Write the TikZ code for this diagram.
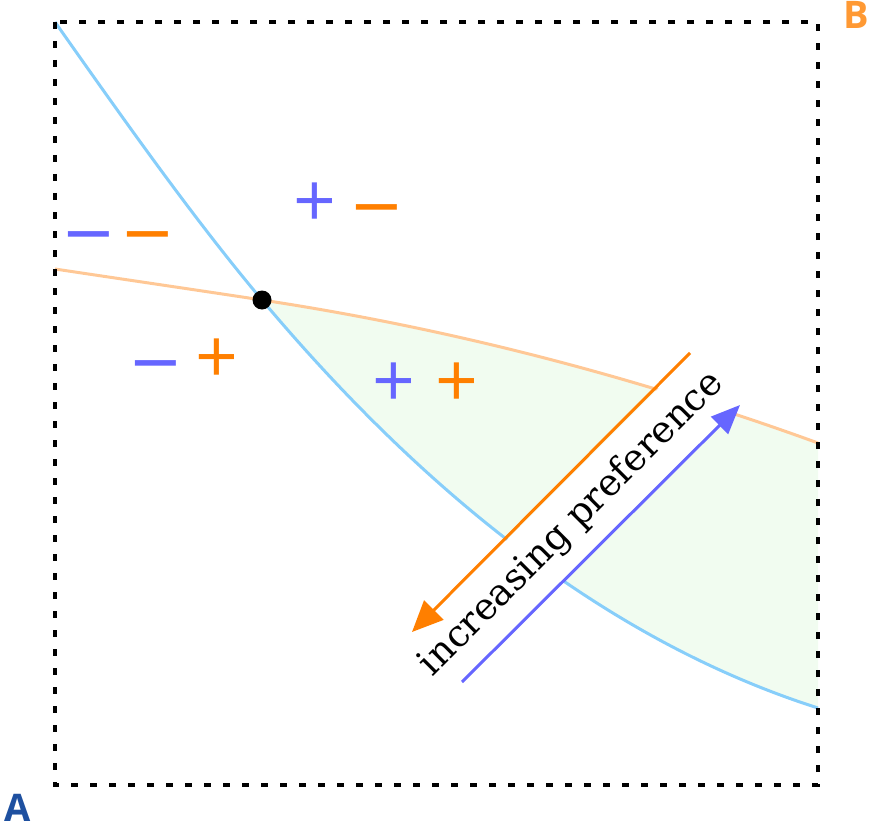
\documentclass[tikz,border=0pt]{standalone}
\usepackage{fontspec}
\newfontfamily\signfont{Open Sans}
\newfontfamily\dashfont[FakeStretch=1.3]{Open Sans}
\newfontfamily\labelfont{Open Sans}
\newfontfamily\preffont{DejaVu Serif}
\usetikzlibrary{arrows.meta}
\definecolor{curveblue}{RGB}{135,206,250}
\definecolor{curveorange}{RGB}{255,200,150}
\definecolor{regiongreen}{RGB}{241,252,240}
\definecolor{signblue}{RGB}{102,102,255}
\definecolor{signorange}{RGB}{255,127,0}
\definecolor{labelA}{RGB}{30,80,160}
\definecolor{labelB}{RGB}{255,153,51}
\begin{document}
\begin{tikzpicture}[x=1pt,y=-1pt,
  sign/.style={inner sep=0pt, anchor=base, font=\signfont\fontsize{75}{75}\selectfont},
  dashsign/.style={inner sep=0pt, anchor=base, font=\dashfont\fontsize{75}{75}\selectfont},
  corner/.style={inner sep=0pt, font=\labelfont\bfseries\fontsize{38}{38}\selectfont},
  curve/.style={line width=3pt},
  prefo/.style={line width=3pt, -{Triangle[length=31pt,width=27pt]}},
  prefb/.style={line width=3pt, -{Triangle[length=29pt,width=24pt]}}]
\useasboundingbox (0,0) rectangle (872,829);
% shaded region
\fill[regiongreen] (262,300) .. controls (447.3,328.1) and (632.7,375.7) .. (818,443)
  -- (818,708) .. controls (633,649) and (447,520) .. (262,300) -- cycle;
% curves
\draw[curve, curveorange] (55,269) .. controls (124,279.4) and (193,289.5) .. (262,300)
  .. controls (447.3,328.1) and (632.7,375.7) .. (818,443);
\draw[curve, curveblue] (55,22) .. controls (124,120) and (193,217.9) .. (262,300)
  .. controls (447,520) and (633,649) .. (818,708);
% frame
\draw[line width=4pt, dash pattern=on 7pt off 12pt] (55,22) rectangle (818,785);
% band with text
\node[fill=white, rotate=45, minimum width=421pt, minimum height=68pt, inner sep=0pt] (band) at (572.75,522.25) {};
\node[rotate=45, anchor=base, inner sep=0pt, font=\preffont\fontsize{37}{37}\selectfont] (pref) at (579,531) {increasing preference};
% arrows
\coordinate (ostart) at (690,353);
\coordinate (otip) at (412,632);
\draw[prefo, signorange] (ostart) -- (otip);
\coordinate (bstart) at (462,682);
\coordinate (btip) at (740,405);
\draw[prefb, signblue] (bstart) -- (btip);
% intersection dot
\node[circle, fill=black, inner sep=0pt, minimum size=19pt] (meet) at (262,300) {};
% signs
\node[dashsign, signblue] (s1a) at (89,254) {–};
\node[dashsign, signorange] (s1b) at (148,254) {–};
\node[sign, signblue] (s2a) at (315,227) {+};
\node[dashsign, signorange] (s2b) at (377,227) {–};
\node[dashsign, signblue] (s3a) at (156,383) {–};
\node[sign, signorange] (s3b) at (217,383) {+};
\node[sign, signblue] (s4a) at (394,407) {+};
\node[sign, signorange] (s4b) at (457,407) {+};
% corner labels
\node[corner, labelA] (A) at (18,808) {A};
\node[corner, labelB] (B) at (856,15) {B};
\end{tikzpicture}
\end{document}
